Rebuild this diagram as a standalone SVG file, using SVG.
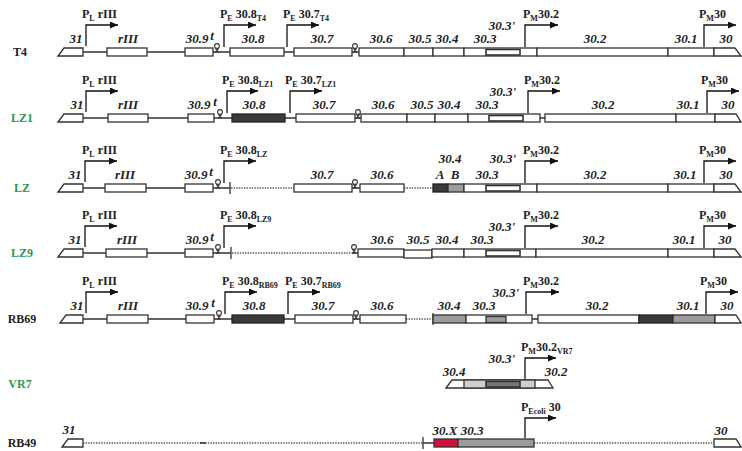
<svg xmlns="http://www.w3.org/2000/svg" xmlns:xlink="http://www.w3.org/1999/xlink" width="742" height="451" viewBox="0 0 742 451">
<style>
.ln{stroke:#333;stroke-width:1.3;fill:none}
.dot{stroke:#555;stroke-width:1.3;stroke-dasharray:1.4 1.2;fill:none}
.bx{fill:#fff;stroke:#333;stroke-width:1.3}
.dk{fill:#3a3a3a;stroke:#222;stroke-width:1.3}
.gr{fill:#9c9c9c;stroke:#333;stroke-width:1.3}
.lg{fill:#cfcfcf;stroke:#333;stroke-width:1.3}
.rd{fill:#d3103c;stroke:#333;stroke-width:1.3}
.in{fill:#fff;stroke:#333;stroke-width:1.6}
.gl{font-family:"Liberation Serif",serif;font-style:italic;font-weight:bold;font-size:13px;text-anchor:middle;fill:#222}
.pl{font-family:"Liberation Serif",serif;font-weight:bold;font-size:12px;fill:#222}
.rl{font-family:"Liberation Serif",serif;font-weight:bold;font-size:12px;text-anchor:middle;fill:#222}
.gn{fill:#2e9652}
.pr{stroke:#111;stroke-width:1.3;fill:none;marker-end:url(#ah)}
.sb{font-size:8px}
</style>
<defs>
<marker id="ah" markerUnits="userSpaceOnUse" markerWidth="9" markerHeight="7" refX="8" refY="3.5" orient="auto"><path d="M0,0 L8,3.5 L0,7 Z" fill="#111"/></marker>
<g id="term"><circle cx="0" cy="-6" r="2.4" fill="#fff" stroke="#333" stroke-width="1.1"/><path d="M-1.6,-3.6 L1.6,0.8 M1.6,-3.6 L-1.6,0.8" stroke="#333" stroke-width="1.1" fill="none"/></g>
</defs>
<rect width="742" height="451" fill="#fff"/>

<!-- T4 -->
<g id="row-T4">
<text class="rl" x="20" y="56">T4</text>
<path class="ln" d="M83,52 H360"/>
<polygon class="bx" points="58,56 64,48 83,48 83,56"/>
<rect class="bx" x="107" y="48" width="40" height="8"/>
<rect class="bx" x="185" y="48" width="28" height="8"/>
<rect class="bx" x="230" y="48" width="54" height="8"/>
<rect class="bx" x="294" y="48" width="58" height="8"/>
<rect class="bx" x="359" y="48" width="45" height="8"/>
<rect class="bx" x="404" y="48" width="29" height="8"/>
<rect class="bx" x="433" y="48" width="31" height="8"/>
<rect class="bx" x="464" y="48" width="73" height="8"/>
<rect class="in" x="486" y="49.5" width="34" height="5.5"/>
<rect class="bx" x="537" y="48" width="131" height="8"/>
<rect class="bx" x="668" y="48" width="46" height="8"/>
<path class="bx" d="M714,48 H735 L741,56 H714 Z"/>
<use xlink:href="#term" x="217" y="52"/>
<use xlink:href="#term" x="355" y="52"/>
<path class="pr" d="M86,46 V25 H118"/>
<path class="pr" d="M224,47 V25 H256"/>
<path class="pr" d="M287,47 V25 H319"/>
<path class="pr" d="M525,47 V25 H558"/>
<path class="pr" d="M704,47 V25 H736"/>
<text class="pl" x="82" y="18">P<tspan class="sb" dy="3">L</tspan><tspan dy="-3"> rIII</tspan></text>
<text class="pl" x="220" y="18">P<tspan class="sb" dy="3">E</tspan><tspan dy="-3"> 30.8</tspan><tspan class="sb" dy="3">T4</tspan></text>
<text class="pl" x="283" y="18">P<tspan class="sb" dy="3">E</tspan><tspan dy="-3"> 30.7</tspan><tspan class="sb" dy="3">T4</tspan></text>
<text class="pl" x="523" y="18">P<tspan class="sb" dy="3">M</tspan><tspan dy="-3">30.2</tspan></text>
<text class="pl" x="699" y="18">P<tspan class="sb" dy="3">M</tspan><tspan dy="-3">30</tspan></text>
<text class="gl" x="76" y="43">31</text>
<text class="gl" x="128" y="43">rIII</text>
<text class="gl" x="197" y="43">30.9</text>
<text class="gl" x="212" y="40">t</text>
<text class="gl" x="253" y="43">30.8</text>
<text class="gl" x="322" y="43">30.7</text>
<text class="gl" x="381" y="43">30.6</text>
<text class="gl" x="420" y="43">30.5</text>
<text class="gl" x="447" y="43">30.4</text>
<text class="gl" x="485" y="43">30.3</text>
<text class="gl" x="502" y="30">30.3'</text>
<text class="gl" x="595" y="43">30.2</text>
<text class="gl" x="686" y="43">30.1</text>
<text class="gl" x="726" y="43">30</text>
</g>

<!-- LZ1 -->
<g id="row-LZ1">
<text class="rl gn" x="22" y="122">LZ1</text>
<path class="ln" d="M83,118 H362 M538,118 H546"/>
<polygon class="bx" points="58,122 64,114 83,114 83,122"/>
<rect class="bx" x="108" y="114" width="40" height="8"/>
<rect class="bx" x="188" y="114" width="26" height="8"/>
<rect class="dk" x="232" y="114" width="53" height="8"/>
<rect class="bx" x="296" y="114" width="59" height="8"/>
<rect class="bx" x="361" y="114" width="46" height="8"/>
<rect class="bx" x="407" y="114" width="28" height="8"/>
<rect class="bx" x="435" y="114" width="33" height="8"/>
<rect class="bx" x="468" y="114" width="72" height="8"/>
<rect class="in" x="489" y="115.5" width="34" height="5.5"/>
<rect class="bx" x="545" y="114" width="131" height="8"/>
<rect class="bx" x="676" y="114" width="39" height="8"/>
<path class="bx" d="M715,114 H736 L741,122 H715 Z"/>
<use xlink:href="#term" x="220" y="118"/>
<use xlink:href="#term" x="358" y="118"/>
<path class="pr" d="M86,112 V91 H118"/>
<path class="pr" d="M227,113 V91 H258"/>
<path class="pr" d="M290,113 V91 H322"/>
<path class="pr" d="M528,113 V91 H560"/>
<path class="pr" d="M707,113 V91 H739"/>
<text class="pl" x="82" y="84">P<tspan class="sb" dy="3">L</tspan><tspan dy="-3"> rIII</tspan></text>
<text class="pl" x="222" y="84">P<tspan class="sb" dy="3">E</tspan><tspan dy="-3"> 30.8</tspan><tspan class="sb" dy="3">LZ1</tspan></text>
<text class="pl" x="285" y="84">P<tspan class="sb" dy="3">E</tspan><tspan dy="-3"> 30.7</tspan><tspan class="sb" dy="3">LZ1</tspan></text>
<text class="pl" x="524" y="84">P<tspan class="sb" dy="3">M</tspan><tspan dy="-3">30.2</tspan></text>
<text class="pl" x="701" y="84">P<tspan class="sb" dy="3">M</tspan><tspan dy="-3">30</tspan></text>
<text class="gl" x="77" y="109">31</text>
<text class="gl" x="128" y="109">rIII</text>
<text class="gl" x="199" y="109">30.9</text>
<text class="gl" x="215" y="106">t</text>
<text class="gl" x="254" y="109">30.8</text>
<text class="gl" x="324" y="109">30.7</text>
<text class="gl" x="383" y="109">30.6</text>
<text class="gl" x="422" y="109">30.5</text>
<text class="gl" x="449" y="109">30.4</text>
<text class="gl" x="487" y="109">30.3</text>
<text class="gl" x="503" y="96">30.3'</text>
<text class="gl" x="603" y="109">30.2</text>
<text class="gl" x="688" y="109">30.1</text>
<text class="gl" x="728" y="109">30</text>
</g>

<!-- LZ -->
<g id="row-LZ">
<text class="rl gn" x="22" y="192">LZ</text>
<path class="ln" d="M83,188 H230 M230,182 V194 M352,188 H360"/>
<path class="dot" d="M231,188 H294 M404,188 H433"/>
<polygon class="bx" points="58,192 64,184 83,184 83,192"/>
<rect class="bx" x="105" y="184" width="41" height="8"/>
<rect class="bx" x="185" y="184" width="28" height="8"/>
<rect class="bx" x="294" y="184" width="58" height="8"/>
<rect class="bx" x="360" y="184" width="44" height="8"/>
<rect class="dk" x="433" y="184" width="15" height="8"/>
<rect class="gr" x="448" y="184" width="16" height="8"/>
<rect class="bx" x="464" y="184" width="73" height="8"/>
<rect class="in" x="486" y="185.5" width="34" height="5.5"/>
<rect class="bx" x="537" y="184" width="131" height="8"/>
<rect class="bx" x="668" y="184" width="46" height="8"/>
<path class="bx" d="M714,184 H735 L741,192 H714 Z"/>
<use xlink:href="#term" x="218" y="188"/>
<use xlink:href="#term" x="355" y="188"/>
<path class="pr" d="M85,182 V161 H117"/>
<path class="pr" d="M224,183 V161 H256"/>
<path class="pr" d="M525,183 V161 H558"/>
<path class="pr" d="M704,183 V161 H736"/>
<text class="pl" x="82" y="154">P<tspan class="sb" dy="3">L</tspan><tspan dy="-3"> rIII</tspan></text>
<text class="pl" x="220" y="154">P<tspan class="sb" dy="3">E</tspan><tspan dy="-3"> 30.8</tspan><tspan class="sb" dy="3">LZ</tspan></text>
<text class="pl" x="523" y="154">P<tspan class="sb" dy="3">M</tspan><tspan dy="-3">30.2</tspan></text>
<text class="pl" x="699" y="154">P<tspan class="sb" dy="3">M</tspan><tspan dy="-3">30</tspan></text>
<text class="gl" x="75" y="179">31</text>
<text class="gl" x="125" y="179">rIII</text>
<text class="gl" x="196" y="179">30.9</text>
<text class="gl" x="211" y="176">t</text>
<text class="gl" x="322" y="179">30.7</text>
<text class="gl" x="382" y="179">30.6</text>
<text class="gl" x="450" y="163">30.4</text>
<text class="gl" x="440" y="179">A</text>
<text class="gl" x="455" y="179">B</text>
<text class="gl" x="487" y="179">30.3</text>
<text class="gl" x="503" y="163">30.3'</text>
<text class="gl" x="595" y="179">30.2</text>
<text class="gl" x="685" y="179">30.1</text>
<text class="gl" x="726" y="179">30</text>
</g>

<!-- LZ9 -->
<g id="row-LZ9">
<text class="rl gn" x="22" y="257">LZ9</text>
<path class="ln" d="M83,253 H231 M231,247 V259 M352,253 H359"/>
<path class="dot" d="M232,253 H352"/>
<polygon class="bx" points="58,257 64,249 83,249 83,257"/>
<rect class="bx" x="106" y="249" width="41" height="8"/>
<rect class="bx" x="185" y="249" width="28" height="8"/>
<rect class="bx" x="358" y="249" width="46" height="8"/>
<rect class="bx" x="404" y="250" width="28" height="8"/>
<rect class="bx" x="432" y="249" width="32" height="8"/>
<rect class="bx" x="464" y="249" width="72" height="8"/>
<rect class="in" x="486" y="250.5" width="34" height="5.5"/>
<rect class="bx" x="536" y="249" width="132" height="8"/>
<rect class="bx" x="668" y="249" width="46" height="8"/>
<path class="bx" d="M714,249 H735 L741,257 H714 Z"/>
<use xlink:href="#term" x="218" y="253"/>
<use xlink:href="#term" x="354" y="253"/>
<path class="pr" d="M85,247 V226 H117"/>
<path class="pr" d="M224,248 V226 H256"/>
<path class="pr" d="M525,248 V226 H558"/>
<path class="pr" d="M704,248 V226 H736"/>
<text class="pl" x="82" y="219">P<tspan class="sb" dy="3">L</tspan><tspan dy="-3"> rIII</tspan></text>
<text class="pl" x="220" y="219">P<tspan class="sb" dy="3">E</tspan><tspan dy="-3"> 30.8</tspan><tspan class="sb" dy="3">LZ9</tspan></text>
<text class="pl" x="523" y="219">P<tspan class="sb" dy="3">M</tspan><tspan dy="-3">30.2</tspan></text>
<text class="pl" x="699" y="219">P<tspan class="sb" dy="3">M</tspan><tspan dy="-3">30</tspan></text>
<text class="gl" x="75" y="244">31</text>
<text class="gl" x="127" y="244">rIII</text>
<text class="gl" x="197" y="244">30.9</text>
<text class="gl" x="212" y="241">t</text>
<text class="gl" x="382" y="244">30.6</text>
<text class="gl" x="418" y="244">30.5</text>
<text class="gl" x="447" y="244">30.4</text>
<text class="gl" x="482" y="244">30.3</text>
<text class="gl" x="502" y="231">30.3'</text>
<text class="gl" x="593" y="244">30.2</text>
<text class="gl" x="684" y="244">30.1</text>
<text class="gl" x="725" y="244">30</text>
</g>

<!-- RB69 -->
<g id="row-RB69">
<text class="rl" x="22" y="323">RB69</text>
<path class="ln" d="M83,319 H361 M532,319 H539 M433,313 V325"/>
<path class="dot" d="M406,319 H433"/>
<polygon class="bx" points="60,323 66,315 83,315 83,323"/>
<rect class="bx" x="107" y="315" width="41" height="8"/>
<rect class="bx" x="186" y="315" width="28" height="8"/>
<rect class="dk" x="232" y="315" width="52" height="8"/>
<rect class="bx" x="295" y="315" width="58" height="8"/>
<rect class="bx" x="360" y="315" width="46" height="8"/>
<rect class="gr" x="433" y="315" width="33" height="8"/>
<rect class="bx" x="466" y="315" width="66" height="8"/>
<rect class="gr" x="486" y="316.5" width="20" height="6"/>
<rect class="bx" x="538" y="315" width="101" height="8"/>
<rect class="dk" x="639" y="315" width="34" height="8"/>
<rect class="gr" x="673" y="315" width="42" height="8"/>
<path class="bx" d="M715,315 H736 L741,323 H715 Z"/>
<use xlink:href="#term" x="219" y="319"/>
<use xlink:href="#term" x="356" y="319"/>
<path class="pr" d="M86,313 V292 H118"/>
<path class="pr" d="M225,314 V292 H257"/>
<path class="pr" d="M288,314 V292 H320"/>
<path class="pr" d="M526,314 V292 H559"/>
<path class="pr" d="M706,314 V292 H738"/>
<text class="pl" x="82" y="285">P<tspan class="sb" dy="3">L</tspan><tspan dy="-3"> rIII</tspan></text>
<text class="pl" x="222" y="285">P<tspan class="sb" dy="3">E</tspan><tspan dy="-3"> 30.8</tspan><tspan class="sb" dy="3">RB69</tspan></text>
<text class="pl" x="285" y="285">P<tspan class="sb" dy="3">E</tspan><tspan dy="-3"> 30.7</tspan><tspan class="sb" dy="3">RB69</tspan></text>
<text class="pl" x="523" y="285">P<tspan class="sb" dy="3">M</tspan><tspan dy="-3">30.2</tspan></text>
<text class="pl" x="700" y="285">P<tspan class="sb" dy="3">M</tspan><tspan dy="-3">30</tspan></text>
<text class="gl" x="77" y="310">31</text>
<text class="gl" x="128" y="310">rIII</text>
<text class="gl" x="197" y="310">30.9</text>
<text class="gl" x="213" y="307">t</text>
<text class="gl" x="254" y="310">30.8</text>
<text class="gl" x="323" y="310">30.7</text>
<text class="gl" x="382" y="310">30.6</text>
<text class="gl" x="449" y="310">30.4</text>
<text class="gl" x="484" y="310">30.3</text>
<text class="gl" x="506" y="297">30.3'</text>
<text class="gl" x="597" y="310">30.2</text>
<text class="gl" x="688" y="310">30.1</text>
<text class="gl" x="727" y="310">30</text>
</g>

<!-- VR7 -->
<g id="row-VR7">
<text class="rl gn" x="20" y="388">VR7</text>
<path class="bx" d="M446,388 L452,380 H548 L553,388 Z"/>
<rect class="lg" x="464" y="380" width="71" height="8"/>
<rect fill="#777" stroke="#333" stroke-width="1.6" x="486" y="381.5" width="34" height="5.5"/>
<path class="pr" d="M525,379 V358 H556"/>
<text class="pl" x="521" y="351">P<tspan class="sb" dy="3">M</tspan><tspan dy="-3">30.2</tspan><tspan class="sb" dy="3">VR7</tspan></text>
<text class="gl" x="454" y="376">30.4</text>
<text class="gl" x="502" y="363">30.3'</text>
<text class="gl" x="556" y="376">30.2</text>
</g>

<!-- RB49 -->
<g id="row-RB49">
<text class="rl" x="22" y="447">RB49</text>
<path class="dot" d="M83,443 H423 M534,443 H714"/>
<path class="ln" d="M200,443 H206 M423,437 V449 M423,443 H434"/>
<polygon class="bx" points="62,447 68,439 83,439 83,447"/>
<rect class="rd" x="434" y="439" width="24" height="8"/>
<rect class="gr" x="458" y="439" width="76" height="8"/>
<path class="bx" d="M714,439 H736 L741,447 H714 Z"/>
<path class="pr" d="M525,438 V418 H556"/>
<text class="pl" x="521" y="411">P<tspan class="sb" dy="3">Ecoli</tspan><tspan dy="-3"> 30</tspan></text>
<text class="gl" x="69" y="434">31</text>
<text class="gl" x="445" y="435">30.X</text>
<text class="gl" x="472" y="435">30.3</text>
<text class="gl" x="721" y="435">30</text>
</g>
</svg>
